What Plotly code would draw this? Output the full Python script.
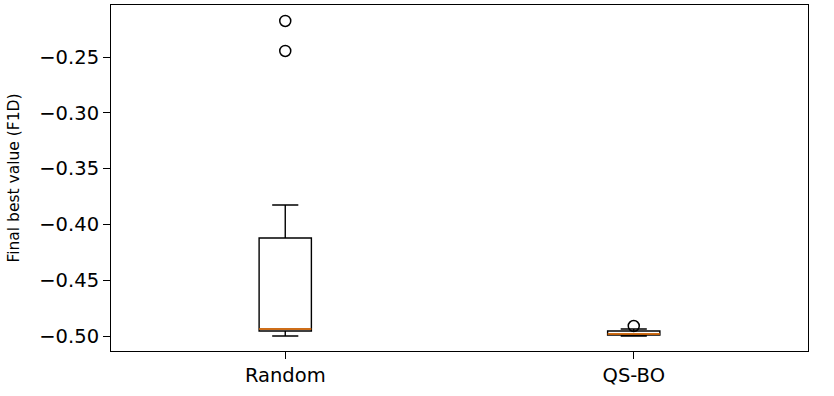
import plotly.graph_objects as go

# box statistics (F1D final best values)
methods = ["Random", "QS-BO"]
positions = [1, 2]
lower_whisker = [-0.5000, -0.5000]
q1 = [-0.4955, -0.4991]
median = [-0.4937, -0.4982]
q3 = [-0.4122, -0.4955]
upper_whisker = [-0.3826, -0.4937]

outlier_x = [1, 1, 2]
outlier_y = [-0.2177, -0.2446, -0.4910]

y_ticks = [-0.50, -0.45, -0.40, -0.35, -0.30, -0.25]

box_width = 0.15

fig = go.Figure()

for pos, lo, a, m, b, hi in zip(positions, lower_whisker, q1, median, q3, upper_whisker):
    fig.add_trace(go.Box(
        x=[pos],
        q1=[a],
        median=[m],
        q3=[b],
        lowerfence=[lo],
        upperfence=[hi],
        width=box_width,
        whiskerwidth=0.5,
        fillcolor="rgba(255,255,255,0)",
        line=dict(color="black", width=1.4),
        boxpoints=False,
        hoverinfo="skip",
        showlegend=False,
    ))
    # matplotlib-style orange median line
    fig.add_trace(go.Scatter(
        x=[pos - box_width / 2, pos + box_width / 2],
        y=[m, m],
        mode="lines",
        line=dict(color="#ff7f0e", width=1.6),
        hoverinfo="skip",
        showlegend=False,
    ))

fig.add_trace(go.Scatter(
    x=outlier_x,
    y=outlier_y,
    mode="markers",
    marker=dict(symbol="circle-open", size=11, color="black", line=dict(width=1.5)),
    hoverinfo="skip",
    showlegend=False,
))

fig.update_layout(
    width=834,
    height=396,
    margin=dict(l=111, r=26, t=5, b=45),
    plot_bgcolor="white",
    paper_bgcolor="white",
    boxmode="overlay",
    font=dict(family="DejaVu Sans", size=19.5, color="black"),
)

fig.update_xaxes(
    range=[0.5, 2.5],
    tickvals=positions,
    ticktext=methods,
    ticks="outside",
    ticklen=7,
    tickwidth=1.1,
    tickcolor="black",
    showline=True,
    linecolor="black",
    linewidth=1.1,
    mirror=True,
    showgrid=False,
    zeroline=False,
)

fig.update_yaxes(
    range=[-0.5134, -0.2034],
    tickvals=y_ticks,
    ticktext=[f"{v:.2f}".replace("-", "\u2212") for v in y_ticks],
    ticks="outside",
    ticklen=7,
    tickwidth=1.1,
    tickcolor="black",
    showline=True,
    linecolor="black",
    linewidth=1.1,
    mirror=True,
    showgrid=False,
    zeroline=False,
    title=dict(text="Final best value (F1D)", font=dict(size=15.5), standoff=15),
)

fig.write_html(
    "out.html",
    config={"displayModeBar": False},
    post_script="document.body.style.margin='0';",
)
